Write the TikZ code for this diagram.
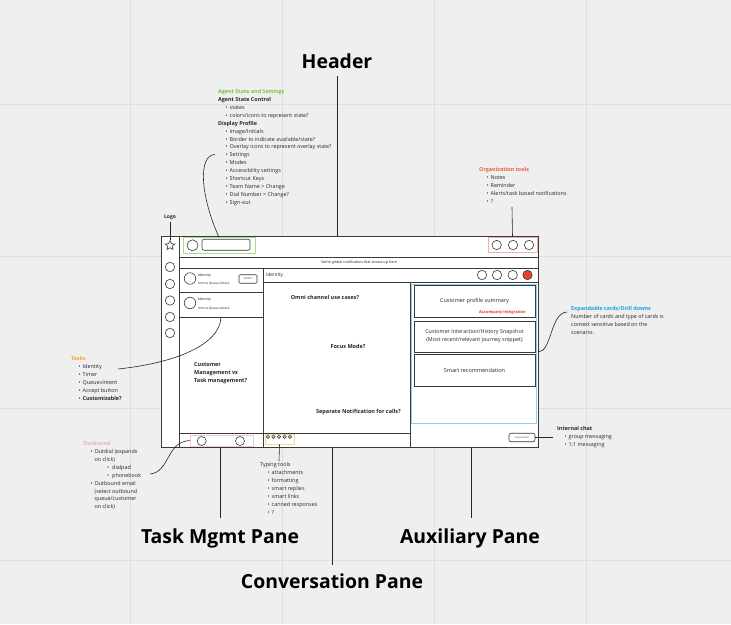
\documentclass[tikz,border=0pt]{standalone}
\usepackage{fontspec}
\setmainfont{Open Sans}
\usetikzlibrary{shapes.geometric}
\definecolor{bgc}{HTML}{EFEFEF}
\definecolor{gridc}{HTML}{DEDEDE}
\definecolor{ink}{HTML}{262626}
\definecolor{frm}{HTML}{3A3A3A}
\definecolor{agreen}{HTML}{7DC242}
\definecolor{gbox}{HTML}{A9DE8C}
\definecolor{ored}{HTML}{F25A45}
\definecolor{rbox}{HTML}{F2AFA5}
\definecolor{eblue}{HTML}{1E9FE0}
\definecolor{bboxc}{HTML}{8ECFF0}
\definecolor{torange}{HTML}{F5A623}
\definecolor{opink}{HTML}{F5A9C6}
\definecolor{pbox}{HTML}{F7C6D6}
\definecolor{ybox}{HTML}{F2D98C}
\definecolor{redfill}{HTML}{E8402A}
\definecolor{accred}{HTML}{E8302A}
\newcommand\itm[1]{\hspace*{7.5pt}\makebox[4pt][l]{\textbullet}#1}
\newcommand\itmc[1]{\hspace*{11.5pt}#1}
\newcommand\sitm[1]{\hspace*{24pt}\makebox[5pt][l]{\textbullet}#1}
\tikzset{
  lst/.style={font=\fontsize{5.4}{7.9}\selectfont, text=ink, align=left, inner sep=0pt, anchor=north west},
  txt/.style={font=\fontsize{5.4}{7.9}\selectfont, text=ink, inner sep=0pt},
  tinytxt/.style={font=\fontsize{3.6}{4.5}\selectfont, text=ink, inner sep=0pt},
  bigl/.style={font=\fontsize{19.4}{22}\selectfont\bfseries, text=black, inner sep=0pt, anchor=base},
  cq/.style={font=\fontsize{5.5}{7.9}\selectfont\bfseries, text=ink, inner sep=0pt},
  frame/.style={draw=frm, line width=0.8pt},
  conn/.style={draw=ink, line width=0.6pt},
  gridln/.style={draw=gridc, line width=0.8pt},
  circ/.style={circle, draw=frm, line width=0.6pt, fill=white, inner sep=0pt, minimum size=9.4pt},
  card/.style={draw=frm, line width=0.8pt, fill=white, minimum width=121pt, inner sep=0pt, align=center,
    font=\fontsize{5.5}{7.9}\selectfont, text=ink},
}
\begin{document}
\begin{tikzpicture}[x=1pt,y=-1pt]
\fill[bgc] (0,0) rectangle (731,624);
\useasboundingbox (0,0) rectangle (731,624);
% grid
\foreach \gx in {130,282,434,586} {\draw[gridln] (\gx,0) -- (\gx,624);}
\foreach \gy in {104,256,408,560} {\draw[gridln] (0,\gy) -- (731,\gy);}

% big labels
\node[bigl] (header) at (337,68.8) {Header};
\node[bigl] (taskl) at (220,543.8) {Task Mgmt Pane};
\node[bigl] (auxl) at (470,543.8) {Auxiliary Pane};
\node[bigl] (convl) at (332,588.8) {Conversation Pane};

% frame
\draw[frame, fill=white] (161,236) rectangle (538,447.5);
\draw[frame] (179,236) -- (179,447.5);
\draw[frame] (179,257) -- (538,257);
\draw[frame] (179,268) -- (538,268);
\draw[frame] (263,282) -- (538,282);
\draw[frame] (263,268) -- (263,447.5);
\draw[frame] (410,282) -- (410,447.5);
\draw[frame] (179,292) -- (263,292);
\draw[frame] (179,317) -- (263,317);
\draw[frame] (179,433) -- (410,433);

% pointer coordinates
\coordinate (ftop) at (337,236);
\coordinate (htop) at (337,76);
\draw[conn] (htop) -- (ftop);
\coordinate (tk1) at (220,447.5); \coordinate (tk2) at (220,518);
\coordinate (cv1) at (332,447.5); \coordinate (cv2) at (332,565);
\coordinate (ax1) at (471,447.5); \coordinate (ax2) at (471,518);
\draw[conn] (tk1) -- (tk2);
\draw[conn] (cv1) -- (cv2);
\draw[conn] (ax1) -- (ax2);

% top bar
\node[star, star points=5, star point ratio=2.2, draw=frm, line width=0.6pt, minimum size=10pt, inner sep=0pt] (star) at (170,245.5) {};
\node[txt, font=\fontsize{5}{6}\selectfont\bfseries, anchor=base] (logo) at (170,218.7) {Logo};
\coordinate (logob) at (170,222);
\draw[conn] (logob) -- (star.north);
\node[draw=gbox, line width=0.8pt, minimum width=72.5pt, minimum height=16pt, inner sep=0pt] (gbox) at (219.5,245.3) {};
\node[circ, minimum size=11pt] (avatar) at (192.5,245.3) {};
\node[draw=frm, line width=0.6pt, rounded corners=2pt, minimum width=48pt, minimum height=11pt, inner sep=0pt] (search) at (226,244.7) {};
\node[draw=rbox, line width=0.8pt, minimum width=49pt, minimum height=15.5pt, inner sep=0pt] (rbox) at (512.5,245) {};
\node[circ] (t1) at (496.7,245) {};
\node[circ] (t2) at (513,245) {};
\node[circ] (t3) at (529,245) {};

% notification
\node[tinytxt, font=\fontsize{3.7}{4.5}\selectfont, anchor=base] (notif) at (359,263.6) {Some global notification that shows up here};

% identity header
\node[txt, font=\fontsize{4.8}{6}\selectfont, anchor=base west] (idh) at (266,276.3) {Identity};
\node[circ] (h1) at (482,275) {};
\node[circ] (h2) at (497,275) {};
\node[circ] (h3) at (512.7,275) {};
\node[circ, fill=redfill] (h4) at (527.5,275) {};

% nav circles
\foreach \i/\ny in {1/267,2/284,3/300.5,4/317,5/333} {\node[circ] (n\i) at (170,\ny) {};}

% left pane cards
\node[circ, minimum size=11.5pt] (a1) at (190,278.5) {};
\node[tinytxt, anchor=base west] (a1t) at (198,276.3) {Identity};
\node[tinytxt, font=\fontsize{3.2}{4}\selectfont, anchor=base west] (a1q) at (198,284.4) {mm:ss Queue details};
\node[draw=frm, line width=0.6pt, rounded corners=1pt, minimum width=18pt, minimum height=8.5pt, inner sep=0pt,
  font=\fontsize{2.4}{3}\selectfont, text=ink] (accept) at (248,279) {ACCEPT};
\node[circ, minimum size=11.5pt] (a2) at (190,303) {};
\node[tinytxt, anchor=base west] (a2t) at (198,300.3) {Identity};
\node[tinytxt, font=\fontsize{3.2}{4}\selectfont, anchor=base west] (a2q) at (198,309.2) {mm:ss Queue details};
\node[cq, align=left, anchor=north west] (cmtm) at (194,362.4) {Customer\\Management vs\\Task management?};

% conversation pane
\node[cq, anchor=base] (omni) at (325,299.9) {Omni channel use cases?};
\node[cq, anchor=base] (focus) at (348,348.9) {Focus Mode?};
\node[cq, anchor=base] (sepn) at (358.5,413.9) {Separate Notification for calls?};

% bottom bars
\node[draw=pbox, line width=0.8pt, minimum width=63pt, minimum height=11pt, inner sep=0pt] (pbox) at (221.5,440.5) {};
\node[circ, minimum size=9pt] (b1) at (201.7,441) {};
\node[circ, minimum size=9pt] (b2) at (240,441) {};
\node[draw=ybox, line width=0.8pt, minimum width=29pt, minimum height=10pt, inner sep=0pt] (ybox) at (279.5,439) {};
\foreach \i/\dx in {1/268,2/273.5,3/279,4/284.5,5/290} {\node[circle, draw=frm, fill=gray!45, line width=0.4pt, inner sep=0pt, minimum size=3.6pt] (d\i) at (\dx,436.7) {};}

% auxiliary pane
\draw[draw=bboxc, line width=0.8pt] (411.7,284) rectangle (536.5,423);
\node[card, minimum height=32pt] (c1) at (474.5,301) {Customer profile summary};
\node[inner sep=0pt, font=\fontsize{4}{4.5}\selectfont\bfseries, text=accred, anchor=base east] (acc) at (526,313.6) {Accompany integration};
\node[card, minimum height=31pt, font=\fontsize{5.4}{8}\selectfont] (c2) at (474.5,336.5) {Customer Interaction/History Snapshot\\(Most recent/relevant journey snippet)};
\node[card, minimum height=32pt] (c3) at (474.5,370) {Smart recommendation};
\node[draw=frm, line width=0.6pt, rounded corners=2pt, fill=white, minimum width=26pt, minimum height=8.5pt, inner sep=0pt,
  font=\fontsize{2.3}{3}\selectfont, text=ink] (ichat) at (522,437.5) {Internal Chat};

% annotations
\node[lst] (agent) at (218,89.3) {{\color{agreen}\bfseries Agent State and Settings}\\
\textbf{Agent State Control}\\
\itm{states}\\
\itm{colors/icons to represent state?}\\
\textbf{Display Profile}\\
\itm{Image/Initials}\\
\itm{Border to indicate available/state?}\\
\itm{Overlay icons to represent overlay state?}\\
\itm{Settings}\\
\itm{Modes}\\
\itm{Accessibility settings}\\
\itm{Shortcut Keys}\\
\itm{Team Name > Change}\\
\itm{Dial Number > Change?}\\
\itm{Sign-out}};
\node[lst] (org) at (479,167.3) {{\color{ored}\bfseries Organization tools}\\
\itm{Notes}\\
\itm{Reminder}\\
\itm{Alerts/task based notifications}\\
\itm{?}};
\node[lst] (tasks) at (71,356.3) {{\color{torange}\bfseries Tasks}\\
\itm{Identity}\\
\itm{Timer}\\
\itm{Queue>>Intent}\\
\itm{Accept button}\\
\itm{\textbf{Customizable?}}};
\node[lst] (outb) at (83,441.3) {{\color{opink}\bfseries Outbound}\\
\itm{Outdial (expands}\\
\itmc{on click)}\\
\sitm{dialpad}\\
\sitm{phonebook}\\
\itm{Outbound email}\\
\itmc{(select outbound}\\
\itmc{queue/customer}\\
\itmc{on click)}};
\node[lst] (typing) at (260,462.3) {Typing tools\\
\itm{attachments}\\
\itm{formatting}\\
\itm{smart replies}\\
\itm{smart links}\\
\itm{canned responses}\\
\itm{?}};
\node[lst] (intc) at (557,426.3) {\textbf{Internal chat}\\
\itm{group messaging}\\
\itm{1:1 messaging}};
\node[lst] (expc) at (571,306.3) {{\color{eblue}\bfseries Expandable cards/Drill downs}\\
Number of cards and type of cards is\\
context sensitive based on the\\
scenario.};

% connectors
\coordinate (setp) at (215,154.5);
\coordinate (gtop) at (219,237.3);
\draw[conn] (setp) .. controls (198,155) and (200,195) .. (gtop);
\coordinate (orgb) at (512,207);
\draw[conn] (orgb) -- (rbox.north);
\coordinate (tkid) at (118,369);
\coordinate (cardb) at (221,317);
\draw[conn] (tkid) .. controls (175,363) and (220,345) .. (cardb);
\coordinate (phb) at (150,474);
\draw[conn] (phb) .. controls (170,472) and (166,442) .. (pbox.west);
\coordinate (typt) at (279,461);
\draw[conn] (ybox.south) -- (typt);
\coordinate (intl) at (553,437.5);
\draw[conn] (ichat.east) -- (intl);
\coordinate (c2r) at (538,352);
\coordinate (expl) at (567,312);
\draw[conn] (c2r) .. controls (552,352) and (550,313) .. (expl);
\end{tikzpicture}
\end{document}
